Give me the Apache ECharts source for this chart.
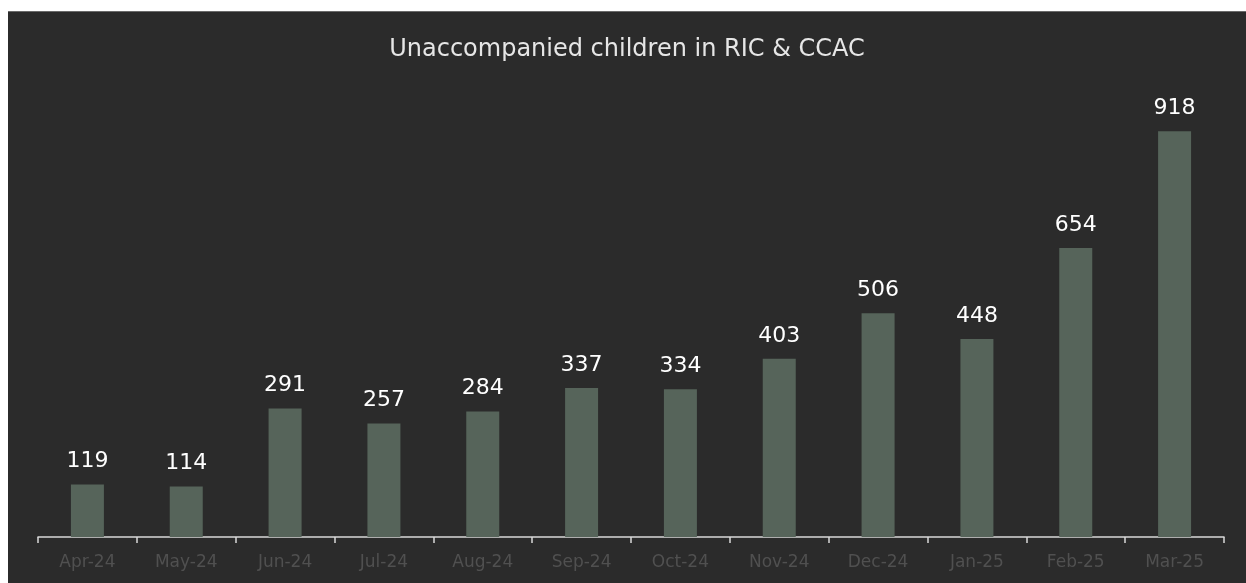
<!DOCTYPE html>
<html><head><meta charset="utf-8">
<script src="https://cdn.jsdelivr.net/npm/echarts@6/dist/echarts.min.js"></script>
<style>
html,body{margin:0;padding:0;background:#ffffff;width:1246px;height:583px;overflow:hidden;}
#wrap{position:absolute;left:8px;top:11px;width:1238px;height:572px;background:#2b2b2b;border-top:1px solid #6a6a6a;box-sizing:border-box;}
#c{width:1238px;height:571px;}
</style></head>
<body><div id="wrap"><div id="c"></div></div>
<script>
const categories = ['Apr-24','May-24','Jun-24','Jul-24','Aug-24','Sep-24','Oct-24','Nov-24','Dec-24','Jan-25','Feb-25','Mar-25'];
const values = [119,114,291,257,284,337,334,403,506,448,654,918];
const titleText = 'Unaccompanied children in RIC & CCAC';
const FONT = '"DejaVu Sans", sans-serif';
const chart = echarts.init(document.getElementById('c'), null, {renderer:'canvas'});
chart.setOption({
  backgroundColor:'#2b2b2b',
  animation:false,
  title:{text:titleText,left:'center',top:21,textStyle:{color:'#e6e6e6',fontSize:24,fontWeight:'normal',fontFamily:FONT}},
  grid:{left:30,right:22,top:83,bottom:46},
  xAxis:{type:'category',data:categories,
    axisLine:{lineStyle:{color:'#d9d9d9',width:1.5}},
    axisTick:{show:true,length:6,lineStyle:{color:'#d9d9d9',width:1.5}},
    axisLabel:{color:'#505050',fontSize:17,margin:17,fontFamily:FONT}},
  yAxis:{type:'value',min:0,max:1000,show:false,splitLine:{show:false}},
  series:[{type:'bar',data:values,barWidth:33,itemStyle:{color:'#56645a'},
    label:{show:true,position:'top',distance:12,color:'#ffffff',fontSize:22,fontFamily:FONT}}]
});
</script></body></html>
